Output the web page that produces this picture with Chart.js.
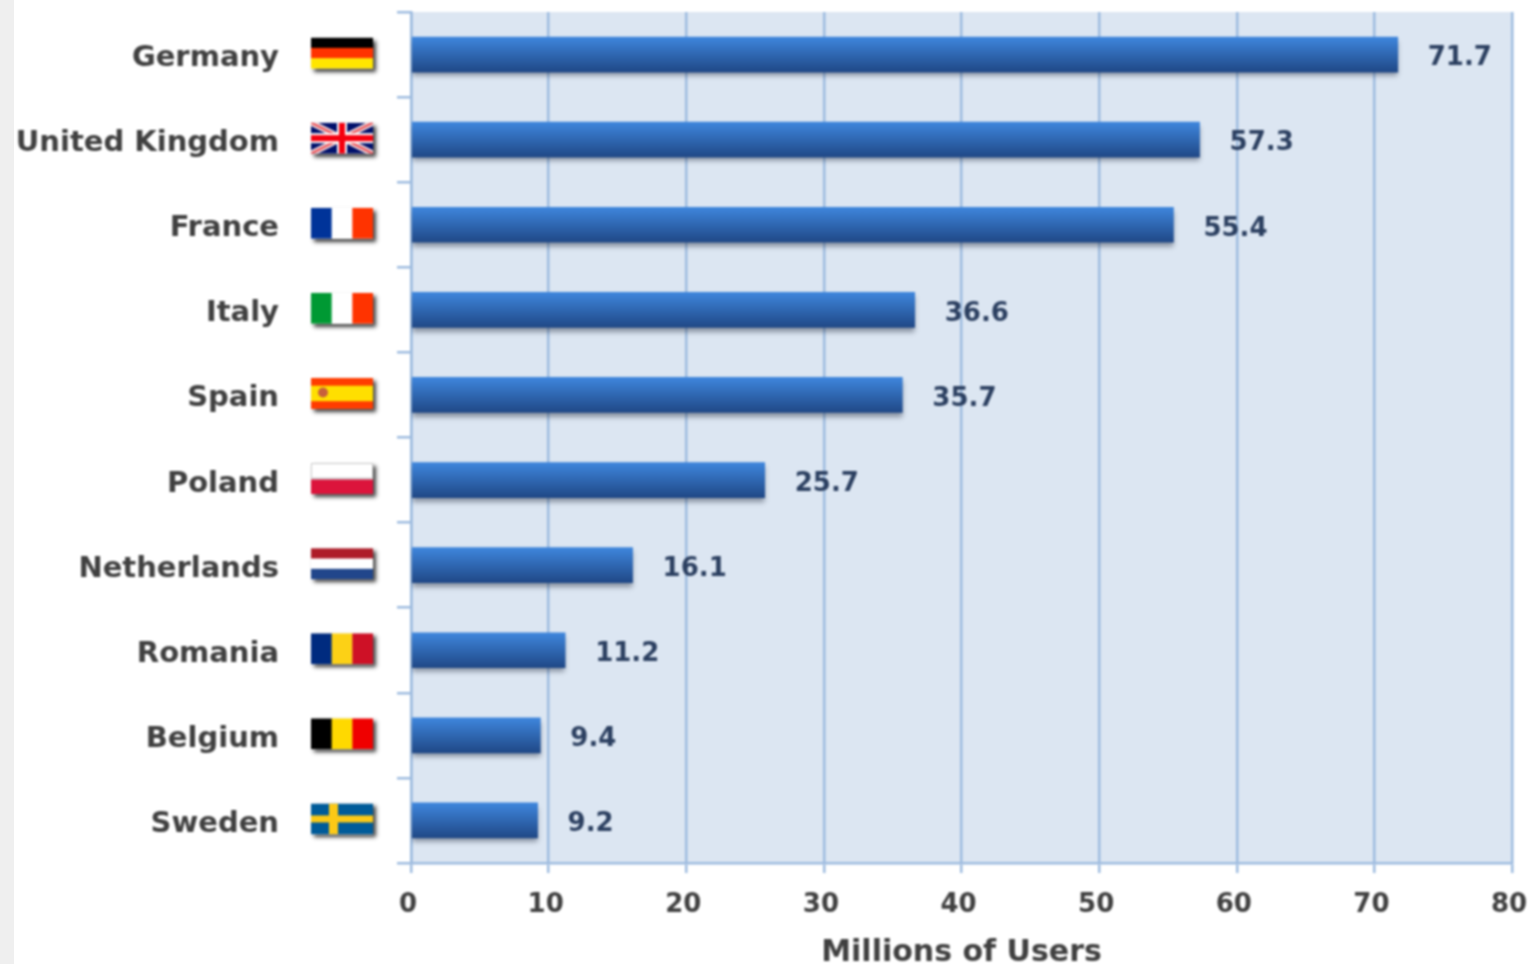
<!DOCTYPE html>
<html>
<head>
<meta charset="utf-8">
<script src="https://cdn.jsdelivr.net/npm/chart.js@4"></script>
<style>
html, body { margin: 0; padding: 0; width: 1534px; height: 964px; overflow: hidden; }
body { background: linear-gradient(to right, #efefef 14px, #fff 14px); }
#wrap { position: absolute; left: 0; top: 0; width: 1534px; height: 964px; filter: blur(0.8px); }
</style>
</head>
<body>
<div id="wrap"><canvas id="usersChart" width="1534" height="964"></canvas></div>
<script>
const countries = ['Germany', 'United Kingdom', 'France', 'Italy', 'Spain', 'Poland', 'Netherlands', 'Romania', 'Belgium', 'Sweden'];
const users = [71.7, 57.3, 55.4, 36.6, 35.7, 25.7, 16.1, 11.2, 9.4, 9.2];
const xTicks = [0, 10, 20, 30, 40, 50, 60, 70, 80];

// stripe colours, top to bottom or left to right
const flagStripes = [
    ['h', '#000000', '#ff3300', '#ffe600'],
    ['uk'],
    ['v', '#003399', '#ffffff', '#ff3300'],
    ['v', '#009933', '#ffffff', '#ff3300'],
    ['es'],
    ['h', '#ffffff', '#dc143c'],
    ['h', '#ae1c28', '#ffffff', '#21468b'],
    ['v', '#002b7f', '#fcd116', '#ce1126'],
    ['v', '#000000', '#ffd900', '#ef0000'],
    ['se']
];

const fontName = '"DejaVu Sans", Verdana, sans-serif';

function drawFlag(ctx, kind, x, y, w, h) {
    ctx.save();
    ctx.shadowColor = 'rgba(0,0,0,0.75)';
    ctx.shadowBlur = 4;
    ctx.shadowOffsetX = 3;
    ctx.shadowOffsetY = 3;
    ctx.fillStyle = '#fff';
    ctx.fillRect(x, y, w, h);
    ctx.restore();

    ctx.save();
    ctx.beginPath();
    ctx.rect(x, y, w, h);
    ctx.clip();
    const type = kind[0];
    if (type === 'h' || type === 'v') {
        const colors = kind.slice(1);
        colors.forEach((c, i) => {
            ctx.fillStyle = c;
            if (type === 'h') {
                ctx.fillRect(x, y + i * h / colors.length, w, h / colors.length + 0.5);
            } else {
                ctx.fillRect(x + i * w / colors.length, y, w / colors.length + 0.5, h);
            }
        });
        if (colors[0] === '#ffffff' && type === 'h') {
            ctx.strokeStyle = '#cccccc';
            ctx.lineWidth = 2;
            ctx.strokeRect(x, y, w, h / 2);
        }
    } else if (type === 'uk') {
        ctx.fillStyle = '#00106b';
        ctx.fillRect(x, y, w, h);
        ctx.strokeStyle = '#f4dada';
        ctx.lineWidth = 6;
        ctx.beginPath();
        ctx.moveTo(x, y); ctx.lineTo(x + w, y + h);
        ctx.moveTo(x + w, y); ctx.lineTo(x, y + h);
        ctx.stroke();
        ctx.strokeStyle = '#e8444c';
        ctx.lineWidth = 2;
        ctx.stroke();
        ctx.fillStyle = '#ffffff';
        ctx.fillRect(x + w / 2 - 5, y, 10, h);
        ctx.fillRect(x, y + h / 2 - 5, w, 10);
        ctx.fillStyle = '#f5000f';
        ctx.fillRect(x + w / 2 - 3, y, 6, h);
        ctx.fillRect(x, y + h / 2 - 3, w, 6);
    } else if (type === 'es') {
        ctx.fillStyle = '#ff3c00';
        ctx.fillRect(x, y, w, h);
        ctx.fillStyle = '#ffdf00';
        ctx.fillRect(x, y + h / 4, w, h / 2);
        ctx.fillStyle = '#c8603c';
        ctx.beginPath();
        ctx.arc(x + 12, y + h / 2 - 1, 5, 0, Math.PI * 2);
        ctx.fill();
    } else if (type === 'se') {
        ctx.fillStyle = '#005b99';
        ctx.fillRect(x, y, w, h);
        ctx.fillStyle = '#fcc916';
        ctx.fillRect(x + 18, y, 9, h);
        ctx.fillRect(x, y + h / 2 - 3.5, w, 7);
    }
    ctx.restore();
}

// flags sit between the country names and the axis
const flagPlugin = {
    id: 'flags',
    afterDraw(chart) {
        const yScale = chart.scales.y;
        flagStripes.forEach((kind, i) => {
            const cy = yScale.getPixelForValue(i);
            drawFlag(chart.ctx, kind, 311, cy - 17, 62, 31);
        });
    }
};

// soft shadow under the bars
const barShadow = {
    id: 'barShadow',
    beforeDatasetDraw(chart) {
        const ctx = chart.ctx;
        ctx.save();
        ctx.shadowColor = 'rgba(30,40,60,0.45)';
        ctx.shadowBlur = 5;
        ctx.shadowOffsetX = 0;
        ctx.shadowOffsetY = 4;
    },
    afterDatasetDraw(chart) {
        chart.ctx.restore();
    }
};

// value next to each bar
const valueLabels = {
    id: 'valueLabels',
    afterDatasetsDraw(chart) {
        const ctx = chart.ctx;
        ctx.save();
        ctx.font = 'bold 26px ' + fontName;
        ctx.fillStyle = '#2b3f60';
        ctx.textAlign = 'left';
        ctx.textBaseline = 'middle';
        chart.getDatasetMeta(0).data.forEach((bar, i) => {
            ctx.fillText(users[i].toFixed(1), bar.x + 30, bar.y + 4);
        });
        ctx.restore();
    }
};

const plotBackground = {
    id: 'plotBackground',
    beforeDraw(chart) {
        const a = chart.chartArea;
        chart.ctx.fillStyle = '#dce6f2';
        chart.ctx.fillRect(a.left, a.top, a.right - a.left, a.bottom - a.top);
    }
};

function barGradient(context) {
    const chart = context.chart;
    if (!chart.chartArea || context.dataIndex === undefined) return '#2f68b4';
    const cy = chart.scales.y.getPixelForValue(context.dataIndex);
    const g = chart.ctx.createLinearGradient(0, cy - 18, 0, cy + 18);
    g.addColorStop(0, '#3f87de');
    g.addColorStop(1, '#1f4785');
    return g;
}

const lineColor = '#9dbbdf';

new Chart(document.getElementById('usersChart').getContext('2d'), {
    type: 'bar',
    data: {
        labels: countries,
        datasets: [{
            label: 'Millions of Users',
            data: users,
            backgroundColor: barGradient,
            barThickness: 35,
            borderWidth: 0
        }]
    },
    options: {
        indexAxis: 'y',
        responsive: false,
        animation: false,
        layout: { padding: { top: 12, right: 22, left: 0, bottom: 0 } },
        plugins: {
            legend: { display: false },
            tooltip: { enabled: false }
        },
        scales: {
            x: {
                min: 0,
                max: 80,
                afterBuildTicks(axis) { axis.ticks = xTicks.map(v => ({ value: v })); },
                afterFit(axis) {
                    axis.height = 101;
                    axis.paddingLeft = 0;
                    axis.paddingRight = 0;
                },
                border: { color: lineColor, width: 2.5 },
                grid: { color: lineColor, lineWidth: 2.5, tickLength: 10 },
                ticks: {
                    color: '#404040',
                    font: { family: fontName, weight: 'bold', size: 26 },
                    padding: 17,
                    labelOffset: -3,
                    maxRotation: 0
                },
                title: {
                    display: true,
                    text: 'Millions of Users',
                    color: '#404040',
                    font: { family: fontName, weight: 'bold', size: 30, lineHeight: 1 },
                    padding: { top: 0, bottom: -4 }
                }
            },
            y: {
                afterFit(axis) {
                    axis.width = 411;
                    axis.paddingTop = 0;
                    axis.paddingBottom = 0;
                },
                border: { color: lineColor, width: 2.5 },
                grid: { offset: true, drawOnChartArea: false, color: lineColor, lineWidth: 2.5, tickLength: 14 },
                ticks: {
                    color: '#404040',
                    font: { family: fontName, weight: 'bold', size: 29 },
                    padding: 118,
                    labelOffset: 4,
                    autoSkip: false
                }
            }
        }
    },
    plugins: [plotBackground, barShadow, valueLabels, flagPlugin]
});
</script>
</body>
</html>
